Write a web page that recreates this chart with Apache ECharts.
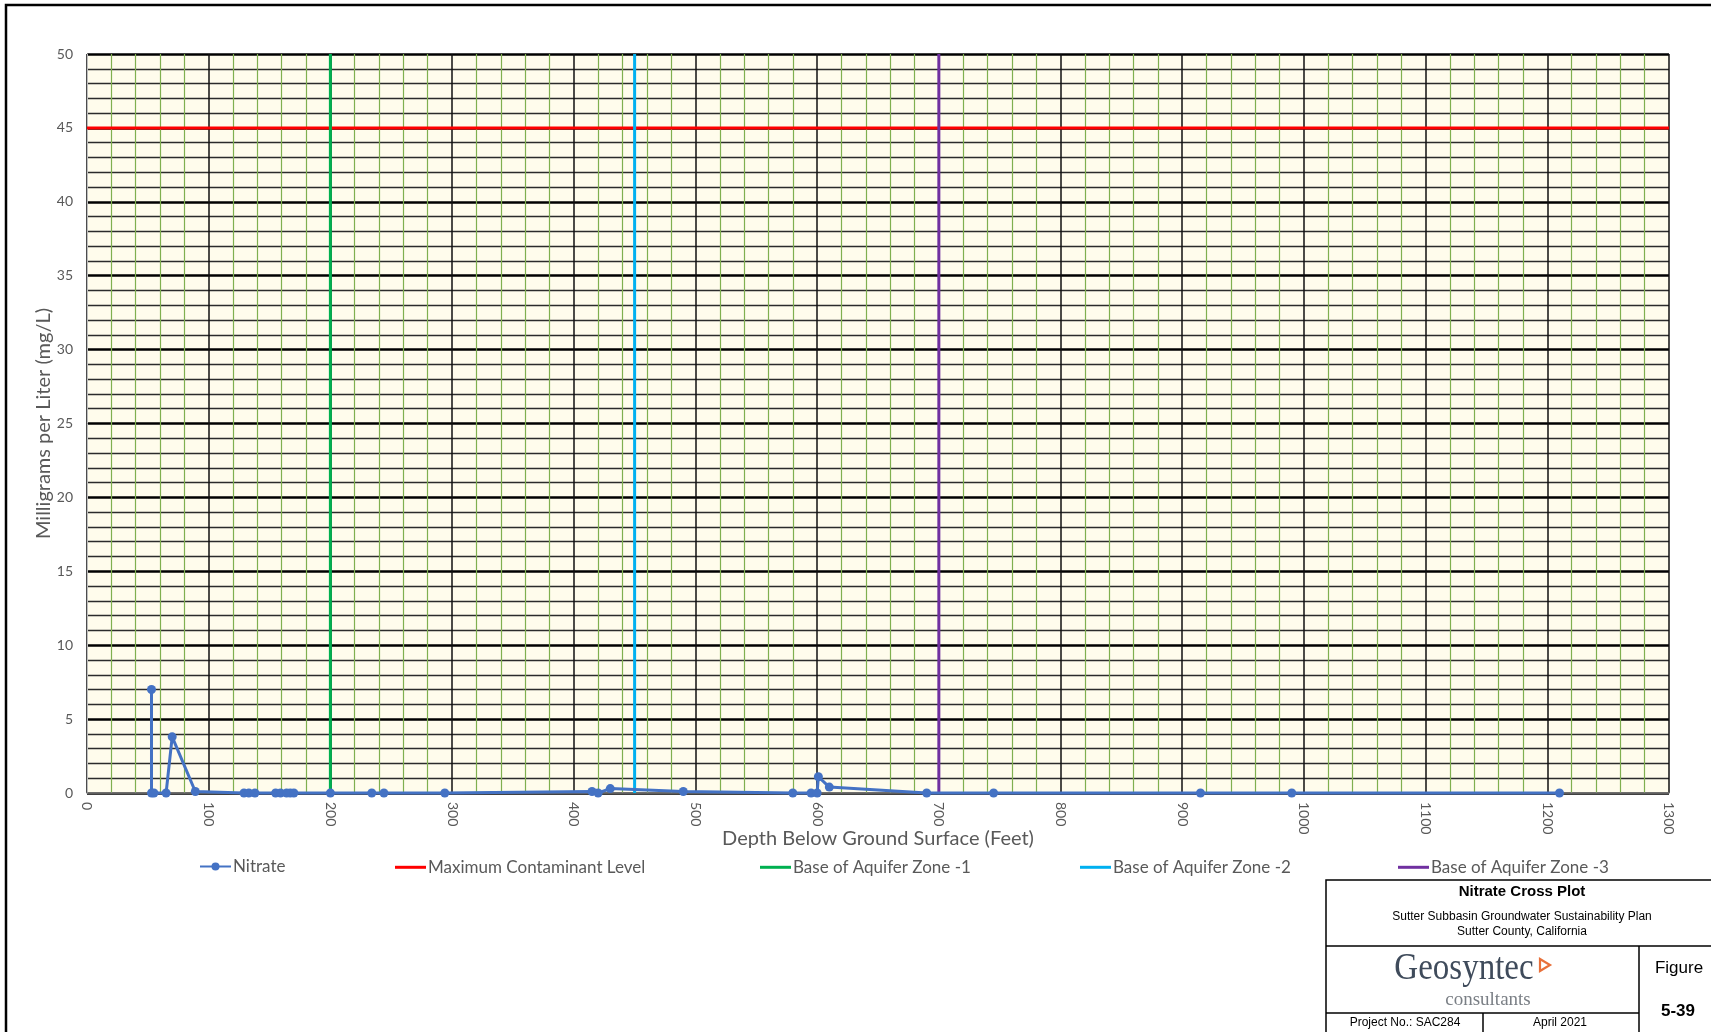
<!DOCTYPE html>
<html>
<head>
<meta charset="utf-8">
<title>Nitrate Cross Plot</title>
<script src="https://cdn.jsdelivr.net/npm/echarts@6/dist/echarts.min.js"></script>
<style>
  html, body { margin: 0; padding: 0; background: #ffffff; }
  #chart { width: 1711px; height: 1032px; }
</style>
</head>
<body>
<div id="chart"></div>
<script>
// Nitrate samples: depth below ground surface (ft) and concentration (mg/L)
const nitrateDepth = [53, 53, 55, 65, 70, 89, 129, 133, 138, 155, 159, 164, 167, 170, 200, 234, 244, 294,
                      415, 420, 430, 490, 580, 595, 600, 601, 610, 690, 745, 915, 990, 1210];
const nitrateValue = [7, 0, 0, 0, 3.8, 0.1, 0, 0, 0, 0, 0, 0, 0, 0, 0, 0, 0, 0,
                      0.1, 0, 0.3, 0.1, 0, 0, 0, 1.1, 0.4, 0, 0, 0, 0, 0];

// Reference levels
const mclLevel = 45;            // mg/L
const mclExtent = [0, 1300];    // ft
const zoneBaseDepth = [200, 450, 700];  // Base of Aquifer Zone -1, -2, -3 (ft)
const zoneExtent = [0, 50];     // mg/L

const seriesNames = ['Nitrate', 'Maximum Contaminant Level',
  'Base of Aquifer Zone -1', 'Base of Aquifer Zone -2', 'Base of Aquifer Zone -3'];
const seriesColors = ['#4472C4', '#FF0000', '#00B050', '#00B0F0', '#7030A0'];

const FONT = 'Lato, "Open Sans", sans-serif';
const chart = echarts.init(document.getElementById('chart'));

const nitratePoints = nitrateDepth.map((d, i) => [d, nitrateValue[i]]);
const mclPoints = mclExtent.map(d => [d, mclLevel]);

const zoneSeries = zoneBaseDepth.map((d, i) => ({
  name: seriesNames[2 + i],
  type: 'line',
  data: zoneExtent.map(v => [d, v]),
  showSymbol: false,
  symbol: 'none',
  lineStyle: { color: seriesColors[2 + i], width: 3 },
  itemStyle: { color: seriesColors[2 + i] },
  z: 4,
  silent: true,
  animation: false
}));

// Legend entries sit at uneven positions along one row;
// the reference lines get a plain bar icon, the nitrate series keeps line + marker
const legendLeft = [194, 390, 755, 1075, 1393];
const legends = seriesNames.map((n, i) => ({
  data: [i === 0 ? { name: n } : { name: n, icon: 'rect' }],
  left: legendLeft[i],
  top: i === 0 ? 853 : 853.8,
  orient: 'horizontal',
  itemWidth: 31,
  itemHeight: i === 0 ? 10 : 3,
  selectedMode: false,
  textStyle: { fontFamily: FONT, fontSize: 17, color: '#595959', padding: [0, 0, 0, -3] }
}));

// Title block drawn at the lower right
const tb = { x0: 1326, x1: 1711, y0: 880, y1: 946, y2: 1013, xFig: 1639, xMid: 1483, yEnd: 1040 };
const line = (x1, y1, x2, y2, w) => ({
  type: 'line', shape: { x1, y1, x2, y2 }, style: { stroke: '#000', lineWidth: w || 1.5 }, silent: true
});
const txt = (x, y, text, font, color, extra) => Object.assign({
  type: 'text', x, y,
  style: { text, font, fill: color || '#000', align: 'center', verticalAlign: 'middle' },
  silent: true
}, extra || {});

const graphics = [
  // outer page frame
  { type: 'rect', shape: { x: 6, y: 5, width: 1720, height: 1040 }, style: { fill: 'none', stroke: '#000', lineWidth: 2.5 }, silent: true },
  // title block frame
  { type: 'rect', shape: { x: tb.x0, y: tb.y0, width: tb.x1 - tb.x0 + 10, height: tb.yEnd - tb.y0 }, style: { fill: '#fff', stroke: '#000', lineWidth: 1.5 }, silent: true },
  line(tb.x0, tb.y1, tb.x1 + 10, tb.y1),
  line(tb.xFig, tb.y1, tb.xFig, tb.yEnd),
  line(tb.x0, tb.y2, tb.xFig, tb.y2),
  line(tb.xMid, tb.y2, tb.xMid, tb.yEnd),
  txt(1522, 892, 'Nitrate Cross Plot', 'bold 15px "Liberation Sans", Arial, sans-serif'),
  txt(1522, 917, 'Sutter Subbasin Groundwater Sustainability Plan', '12px "Liberation Sans", Arial, sans-serif'),
  txt(1522, 932, 'Sutter County, California', '12px "Liberation Sans", Arial, sans-serif'),
  txt(1464, 969, 'Geosyntec', '33px "Liberation Serif", "DejaVu Serif", serif', '#3f4b5b', { scaleY: 1.12 }),
  { type: 'polygon', shape: { points: [[1540, 959], [1540, 971], [1550, 965]] },
    style: { fill: 'none', stroke: '#e8703a', lineWidth: 2.2 }, silent: true },
  txt(1488, 1000, 'consultants', '19px "Liberation Serif", "DejaVu Serif", serif', '#7a7f85'),
  txt(1679, 968, 'Figure', '17px "Liberation Sans", Arial, sans-serif'),
  txt(1678, 1011, '5-39', 'bold 17px "Liberation Sans", Arial, sans-serif'),
  txt(1405, 1023, 'Project No.: SAC284', '12px "Liberation Sans", Arial, sans-serif'),
  txt(1560, 1023, 'April 2021', '12px "Liberation Sans", Arial, sans-serif')
];

const option = {
  backgroundColor: '#ffffff',
  animation: false,
  grid: {
    left: 87, right: 42, top: 54, bottom: 239,
    show: true, backgroundColor: '#FFFCEC', borderWidth: 0
  },
  legend: legends,
  xAxis: {
    type: 'value', min: 0, max: 1300, interval: 100,
    name: 'Depth Below Ground Surface (Feet)',
    nameLocation: 'middle', nameGap: 36, nameMoveOverlap: false,
    nameTextStyle: { fontFamily: FONT, fontSize: 20, color: '#595959', verticalAlign: 'top' },
    axisLine: { show: true, onZero: false, lineStyle: { color: '#7f7f7f', width: 1.5 } },
    axisTick: { show: false },
    axisLabel: { rotate: -90, margin: 9, fontFamily: FONT, fontSize: 14, color: '#595959',
                 formatter: v => String(v) },
    splitLine: { show: true, lineStyle: { color: '#111', width: 1.5 } },
    minorTick: { show: false, splitNumber: 5 },
    minorSplitLine: { show: true, lineStyle: { color: '#7FAF4F', width: 1.2 } }
  },
  yAxis: {
    type: 'value', min: 0, max: 50, interval: 5,
    name: 'Milligrams per Liter (mg/L)',
    nameLocation: 'middle', nameGap: 33, nameRotate: 90, nameMoveOverlap: false,
    nameTextStyle: { fontFamily: FONT, fontSize: 20, color: '#595959' },
    axisLine: { show: true, onZero: false, lineStyle: { color: '#bfbfbf', width: 1 } },
    axisTick: { show: false },
    axisLabel: { margin: 14, fontFamily: FONT, fontSize: 14, color: '#595959' },
    splitLine: { show: true, lineStyle: { color: '#000', width: 2.5 } },
    minorTick: { show: false, splitNumber: 5 },
    minorSplitLine: { show: true, lineStyle: { color: '#2b2b2b', width: 1.3 } }
  },
  series: [
    {
      name: seriesNames[0],
      type: 'line',
      data: nitratePoints,
      symbol: 'circle', symbolSize: 9,
      showAllSymbol: true,
      lineStyle: { color: seriesColors[0], width: 3 },
      itemStyle: { color: seriesColors[0] },
      z: 6,
      clip: false,
      animation: false
    },
    {
      name: seriesNames[1],
      type: 'line',
      data: mclPoints,
      symbol: 'none', showSymbol: false,
      lineStyle: { color: seriesColors[1], width: 3 },
      itemStyle: { color: seriesColors[1] },
      z: 3,
      silent: true,
      animation: false
    },
    ...zoneSeries
  ],
  graphic: graphics
};

chart.setOption(option);
</script>
</body>
</html>
